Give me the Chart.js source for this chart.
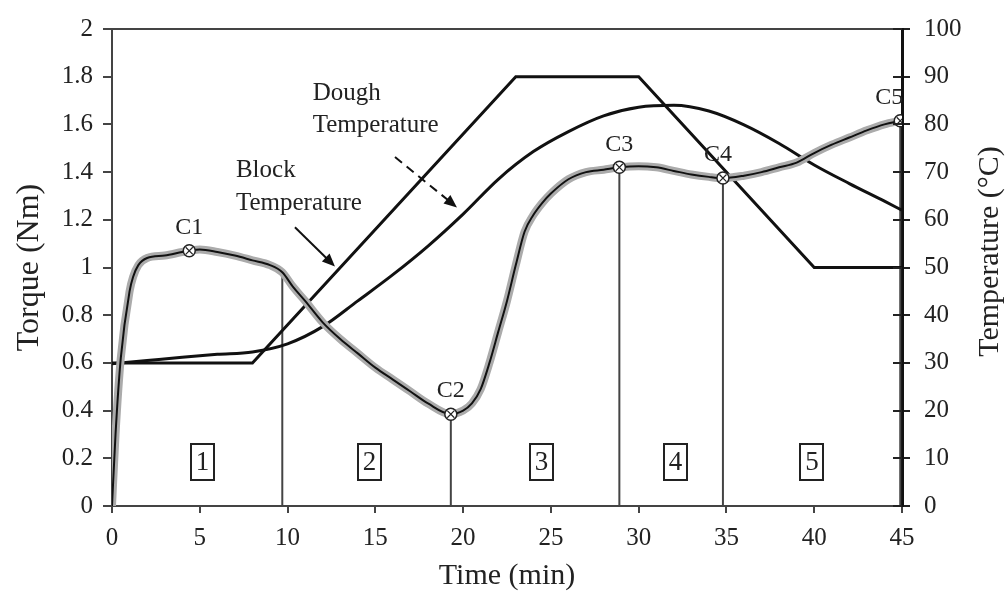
<!DOCTYPE html>
<html>
<head>
<meta charset="utf-8">
<script src="https://cdn.jsdelivr.net/npm/chart.js@4.4.1/dist/chart.umd.min.js"></script>
<style>
  body { margin: 0; background: #fff; }
  #wrap { width: 1006px; height: 594px; }
</style>
</head>
<body>
<div id="wrap"><canvas id="chart"></canvas></div>
<script>
// tick labels
const timeTicks = [0, 5, 10, 15, 20, 25, 30, 35, 40, 45];
const torqueTicks = [0, 0.2, 0.4, 0.6, 0.8, 1, 1.2, 1.4, 1.6, 1.8, 2];
const tempTicks = [0, 10, 20, 30, 40, 50, 60, 70, 80, 90, 100];

// torque curve (Nm)
const torqueTime = [0, 0.2, 0.5, 1, 1.2, 1.5, 2, 3, 4, 4.4, 5, 6, 7, 8, 9, 9.7, 10.3, 11, 12, 13, 14, 15, 16, 17, 18, 19.3,
  20, 20.5, 21, 21.5, 22, 22.5, 23, 23.5, 24, 24.5, 25, 26, 27, 28, 28.9, 30, 31, 32, 33, 34, 34.8,
  36, 37, 38, 39, 40, 41, 42, 43, 44, 44.9];
const torqueNm = [0, 0.3, 0.62, 0.9, 0.96, 1.01, 1.04, 1.05, 1.065, 1.07, 1.075, 1.065, 1.05, 1.03, 1.01, 0.98, 0.92, 0.86, 0.77, 0.7, 0.64, 0.58, 0.53, 0.48, 0.43, 0.385,
  0.4, 0.43, 0.49, 0.6, 0.73, 0.86, 1.01, 1.15, 1.22, 1.27, 1.31, 1.37, 1.4, 1.41, 1.42, 1.425, 1.42, 1.405, 1.39, 1.38, 1.375,
  1.385, 1.4, 1.42, 1.44, 1.48, 1.515, 1.545, 1.575, 1.6, 1.615];

// dough temperature (°C)
const doughTime = [0, 2, 4, 6, 8, 10, 12, 14, 16, 18, 20, 22, 24, 26, 28, 30, 32, 34, 36, 38, 40, 42, 44, 45];
const doughTemp = [29.8, 30.5, 31.2, 31.8, 32.3, 34, 37.6, 43, 48.5, 54.5, 61.2, 68.5, 74.3, 78.5, 81.8, 83.6, 84, 82.8, 79.9, 76, 71.5, 67.6, 63.9, 62];

// block temperature (°C)
const blockTime = [0, 8, 23, 30, 40, 45];
const blockTemp = [30, 30, 90, 90, 50, 50];

// characteristic points C1..C5
const pointLabels = ['C1', 'C2', 'C3', 'C4', 'C5'];
const pointTime = [4.4, 19.3, 28.9, 34.8, 44.9];
const pointTorque = [1.07, 0.385, 1.42, 1.375, 1.615];

// phase dividers
const dividerTime = [9.7, 19.3, 28.9, 34.8, 44.9];
const dividerTorque = [0.98, 0.385, 1.42, 1.375, 1.615];

// phase numbers
const phaseLabels = ['1', '2', '3', '4', '5'];
const phaseTime = [5.15, 14.67, 24.46, 32.1, 39.87];

const zip = (xs, ys) => xs.map((x, i) => ({ x: x, y: ys[i] }));

const serif = '"Liberation Serif", "Times New Roman", serif';
const ink = '#222';

const datasets = [];
datasets.push({ data: zip(pointTime, pointTorque), yAxisID: 'y', showLine: false,
  pointStyle: 'circle', pointRadius: 6, pointBackgroundColor: '#fff', pointBorderColor: '#222', pointBorderWidth: 1.5, order: 0 });
datasets.push({ data: zip(pointTime, pointTorque), yAxisID: 'y', showLine: false,
  pointStyle: 'crossRot', pointRadius: 5, pointBorderColor: '#222', pointBorderWidth: 1.2, order: -1 });
datasets.push({ data: zip(torqueTime, torqueNm), yAxisID: 'y', borderColor: '#111', borderWidth: 2, pointRadius: 0,
  cubicInterpolationMode: 'monotone', order: 2 });
datasets.push({ data: zip(torqueTime, torqueNm), yAxisID: 'y', borderColor: '#ababab', borderWidth: 8, pointRadius: 0,
  cubicInterpolationMode: 'monotone', order: 3 });
datasets.push({ data: zip(doughTime, doughTemp), yAxisID: 'y2', borderColor: '#111', borderWidth: 3, pointRadius: 0,
  cubicInterpolationMode: 'monotone', order: 4 });
datasets.push({ data: zip(blockTime, blockTemp), yAxisID: 'y2', borderColor: '#111', borderWidth: 3, pointRadius: 0, order: 4 });
dividerTime.forEach(function(t, i) {
  datasets.push({ data: [{ x: t, y: 0 }, { x: t, y: dividerTorque[i] }], yAxisID: 'y',
    borderColor: '#444', borderWidth: 2, pointRadius: 0, order: 5 });
});

function arrow(ctx, x1, y1, x2, y2, dashed) {
  const a = Math.atan2(y2 - y1, x2 - x1);
  ctx.save();
  ctx.strokeStyle = '#111';
  ctx.fillStyle = '#111';
  ctx.lineWidth = 2;
  if (dashed) ctx.setLineDash([9, 6]);
  ctx.beginPath();
  ctx.moveTo(x1, y1);
  ctx.lineTo(x2 - 10 * Math.cos(a), y2 - 10 * Math.sin(a));
  ctx.stroke();
  ctx.setLineDash([]);
  ctx.beginPath();
  ctx.moveTo(x2, y2);
  ctx.lineTo(x2 - 14 * Math.cos(a - 0.4), y2 - 14 * Math.sin(a - 0.4));
  ctx.lineTo(x2 - 14 * Math.cos(a + 0.4), y2 - 14 * Math.sin(a + 0.4));
  ctx.closePath();
  ctx.fill();
  ctx.restore();
}

const decorations = {
  id: 'decorations',
  afterDatasetsDraw(chart) {
    const ctx = chart.ctx;
    const xs = chart.scales.x, ys = chart.scales.y, y2 = chart.scales.y2;
    const area = chart.chartArea;
    ctx.save();

    // top frame line
    ctx.strokeStyle = '#444';
    ctx.lineWidth = 2;
    ctx.beginPath();
    ctx.moveTo(area.left, area.top);
    ctx.lineTo(area.right, area.top);
    ctx.stroke();

    // inner half of the right axis ticks
    ctx.strokeStyle = '#222';
    tempTicks.forEach(function(v) {
      const py = Math.round(y2.getPixelForValue(v));
      ctx.beginPath();
      ctx.moveTo(area.right - 9, py);
      ctx.lineTo(area.right, py);
      ctx.stroke();
    });

    // point labels
    ctx.fillStyle = ink;
    ctx.font = '24px ' + serif;
    ctx.textAlign = 'center';
    ctx.textBaseline = 'bottom';
    pointLabels.forEach(function(lbl, i) {
      let px = xs.getPixelForValue(pointTime[i]);
      if (i === 3) px -= 5;
      if (i === 4) px -= 11;
      ctx.fillText(lbl, px, ys.getPixelForValue(pointTorque[i]) - 11);
    });

    // phase boxes
    ctx.font = '27px ' + serif;
    ctx.textBaseline = 'middle';
    phaseLabels.forEach(function(lbl, i) {
      const px = xs.getPixelForValue(phaseTime[i]);
      const py = ys.getPixelForValue(0.186);
      ctx.strokeStyle = '#222';
      ctx.lineWidth = 2;
      ctx.strokeRect(Math.round(px - 11.5), Math.round(py - 18), 23, 36);
      ctx.fillText(lbl, px, py + 1);
    });

    // curve annotations
    ctx.font = '25px ' + serif;
    ctx.textAlign = 'left';
    ctx.fillText('Dough', xs.getPixelForValue(11.43), ys.getPixelForValue(1.73));
    ctx.fillText('Temperature', xs.getPixelForValue(11.43), ys.getPixelForValue(1.595));
    ctx.fillText('Block', xs.getPixelForValue(7.06), ys.getPixelForValue(1.405));
    ctx.fillText('Temperature', xs.getPixelForValue(7.06), ys.getPixelForValue(1.27));
    arrow(ctx, xs.getPixelForValue(16.12), ys.getPixelForValue(1.463), xs.getPixelForValue(19.65), ys.getPixelForValue(1.252), true);
    arrow(ctx, xs.getPixelForValue(10.42), ys.getPixelForValue(1.169), xs.getPixelForValue(12.7), ys.getPixelForValue(1.004), false);

    // right axis title, reading bottom to top
    ctx.translate(990, (area.top + area.bottom) / 2 - 16);
    ctx.rotate(-Math.PI / 2);
    ctx.textAlign = 'center';
    ctx.font = '30px ' + serif;
    ctx.fillText('Temperature (°C)', 0, 0);
    ctx.restore();
  }
};

new Chart(document.getElementById('chart'), {
  type: 'line',
  data: { datasets: datasets },
  options: {
    responsive: true,
    maintainAspectRatio: false,
    animation: false,
    layout: { padding: { top: 22, left: 0, right: 0, bottom: 0 } },
    plugins: { legend: { display: false }, tooltip: { enabled: false } },
    scales: {
      x: {
        type: 'linear', position: 'bottom', min: 0, max: 45,
        afterBuildTicks: s => { s.ticks = timeTicks.map(v => ({ value: v })); },
        afterFit: s => { s.height = 88; },
        ticks: { autoSkip: false, maxRotation: 0, padding: 10, color: ink, font: { family: serif, size: 25 } },
        grid: { drawOnChartArea: false, tickLength: 7, color: '#444', lineWidth: 2 },
        border: { color: '#444', width: 2 },
        title: { display: true, text: 'Time (min)', color: ink, padding: { top: 0, bottom: 0 }, font: { family: serif, size: 30 } }
      },
      y: {
        type: 'linear', position: 'left', min: 0, max: 2,
        afterBuildTicks: s => { s.ticks = torqueTicks.map(v => ({ value: v })); },
        afterFit: s => { s.width = 112; },
        ticks: { padding: 10, color: ink, font: { family: serif, size: 25 }, callback: v => String(v) },
        grid: { drawOnChartArea: false, tickLength: 9, color: '#444', lineWidth: 2 },
        border: { color: '#444', width: 2 },
        title: { display: true, text: 'Torque (Nm)', color: ink, padding: { top: 10, bottom: 0 }, font: { family: serif, size: 32 } }
      },
      y2: {
        type: 'linear', position: 'right', min: 0, max: 100,
        afterBuildTicks: s => { s.ticks = tempTicks.map(v => ({ value: v })); },
        afterFit: s => { s.width = 104; },
        ticks: { padding: 14, color: ink, font: { family: serif, size: 25 }, callback: v => String(v) },
        grid: { drawOnChartArea: false, tickLength: 8, color: '#222', lineWidth: 2 },
        border: { color: '#111', width: 3 }
      }
    }
  },
  plugins: [decorations]
});
</script>
</body>
</html>
